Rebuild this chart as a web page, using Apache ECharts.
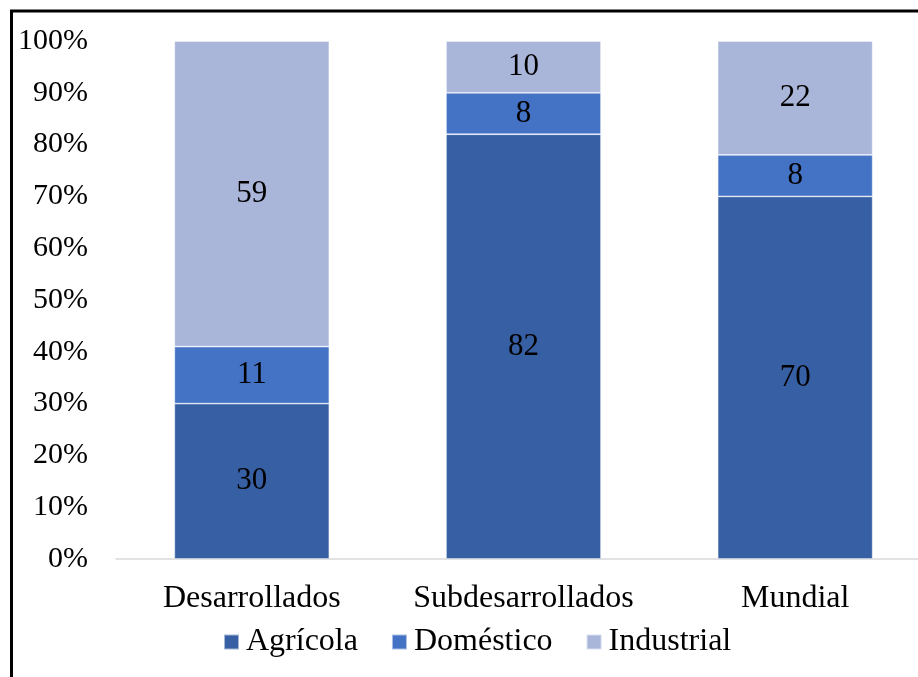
<!DOCTYPE html>
<html>
<head>
<meta charset="utf-8">
<style>
  html, body { margin: 0; padding: 0; background: #ffffff; }
  #chart { width: 918px; height: 677px; }
</style>
<script src="https://cdn.jsdelivr.net/npm/echarts@6/dist/echarts.min.js"></script>
</head>
<body>
<div id="chart"></div>
<script>
// Water use by sector (%)
const categories = ['Desarrollados', 'Subdesarrollados', 'Mundial'];
const agricola = [30, 82, 70];
const domestico = [11, 8, 8];
const industrial = [59, 10, 22];
const seriesNames = ['Agrícola', 'Doméstico', 'Industrial'];
const colors = ['#375FA3', '#4472C4', '#A9B6DA'];

const font = '"Liberation Serif", "Times New Roman", serif';

function barSeries(name, data, color) {
  return {
    name: name,
    type: 'bar',
    stack: 'total',
    barWidth: 155,
    data: data,
    itemStyle: { color: color, borderColor: 'rgba(255,255,255,0.55)', borderWidth: 0.8 },
    label: {
      show: true,
      position: 'inside',
      color: '#000',
      fontFamily: font,
      fontSize: 31
    },
    emphasis: { disabled: true }
  };
}

const chart = echarts.init(document.getElementById('chart'));
chart.setOption({
  animation: false,
  backgroundColor: '#ffffff',
  color: colors,
  graphic: [{
    type: 'rect',
    shape: { x: 11.5, y: 11, width: 940, height: 700 },
    style: { fill: 'none', stroke: '#000', lineWidth: 3 },
    z: 100
  }],
  grid: { left: 116, top: 41, width: 815, height: 518, outerBoundsMode: 'none', containLabel: false },
  legend: {
    data: seriesNames,
    top: 626,
    left: 223,
    padding: 0,
    itemWidth: 15,
    itemHeight: 15,
    itemGap: 33,
    icon: 'rect',
    textStyle: { fontFamily: font, fontSize: 32, color: '#000', padding: [0, 0, 0, 2] }
  },
  xAxis: {
    type: 'category',
    data: categories,
    axisLine: { lineStyle: { color: '#d9d9d9', width: 1.5 } },
    axisTick: { show: false },
    axisLabel: { fontFamily: font, fontSize: 32, color: '#000', margin: 24, interval: 0 }
  },
  yAxis: {
    type: 'value',
    min: 0,
    max: 100,
    interval: 10,
    axisLine: { show: false },
    axisTick: { show: false },
    splitLine: { show: false },
    axisLabel: { formatter: '{value}%', fontFamily: font, fontSize: 30, color: '#000', margin: 28 }
  },
  series: [
    barSeries(seriesNames[0], agricola, colors[0]),
    barSeries(seriesNames[1], domestico, colors[1]),
    barSeries(seriesNames[2], industrial, colors[2])
  ]
});
</script>
</body>
</html>
